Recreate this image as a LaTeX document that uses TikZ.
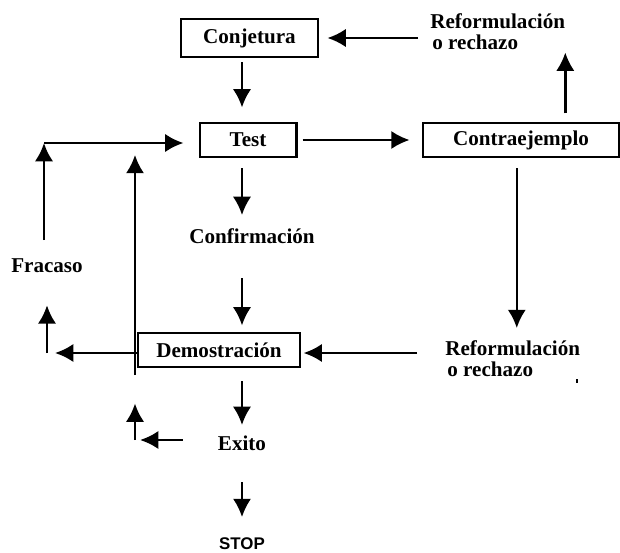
\documentclass[tikz,border=0pt]{standalone}
\usepackage{fontspec}
\setmainfont{Liberation Serif}
\setsansfont{Liberation Sans}
\usetikzlibrary{arrows.meta}

\begin{document}
\begin{tikzpicture}[x=0.025cm, y=-0.025cm,
    every node/.style = {font=\fontsize{15}{15}\selectfont\bfseries},
    caja/.style = {shape=rectangle, draw, line width=2.1pt, minimum height=24.2pt},
    etiq/.style = {inner sep=0pt, text height=10.5pt, text depth=0pt},
    nota/.style = {inner sep=0pt, align=left},
    flecha/.style = {line width=1.8pt, -{Latex[length=13pt,width=13pt]}}]
  \useasboundingbox (0,0) rectangle (620,553);

  % cajas
  \node[caja, minimum width=97.4pt, minimum height=27pt] (conj) at (249.5,38) {Conjetura};
  \node[caja, minimum width=68.3pt] (test) at (248,140) {Test};
  \node[caja, minimum width=139.4pt] (contra) at (521,140) {Contraejemplo};
  \node[caja, minimum width=115.2pt] (demo) at (219,350) {Demostración};

  % textos sueltos
  \node[nota, anchor=north west] (reftop) at (430,13) {Reformulación\\\hspace{1.5pt}o rechazo};
  \node[nota, anchor=north west] (refbot) at (445,340) {Reformulación\\\hspace{1.5pt}o rechazo};
  \node[etiq, anchor=base] (confirm) at (252,243) {Confirmación};
  \node[etiq, anchor=base] (fracaso) at (47,272) {Fracaso};
  \node[etiq, anchor=base] (exito) at (242,450) {Exito};
  \node[etiq, anchor=base, font=\fontsize{12}{12}\selectfont\sffamily\bfseries] (stop) at (242,549) {STOP};

  \coordinate (ft) at (44,143);
  \coordinate (fl) at (47,353);
  \coordinate (ec) at (135,440);
  \coordinate (lb) at (135,375);

  % flechas
  \draw[flecha, shorten <=8.5pt, shorten >=5.7pt] (reftop.west |- conj.east) -- (conj.east);
  \draw[flecha, shorten <=2.8pt, shorten >=10pt] (conj.south -| exito) -- (test.north -| exito);
  \draw[flecha, shorten <=3.6pt, shorten >=8.5pt] (test.east) -- (contra.west);
  \draw[flecha, shorten <=5.7pt, shorten >=2pt] (contra.north -| reftop.south east) -- (reftop.south east);
  \draw[flecha, shorten <=7.1pt, shorten >=9.2pt] (test.south -| exito) -- (confirm.north -| exito);
  \draw[flecha, shorten <=24.9pt, shorten >=4.3pt] (confirm.south -| exito) -- (demo.north -| exito);
  \draw[flecha, shorten <=7.1pt, shorten >=8.5pt] ([xshift=-3pt]contra.south) -- ([xshift=-3pt]contra.south |- refbot.north);
  \draw[flecha, shorten <=19.9pt, shorten >=1.5pt] (refbot.west |- fl) -- (demo.east |- fl);
  \draw[flecha, shorten >=5.7pt] (demo.west |- fl) -- (fl);
  \draw[flecha, shorten >=23.5pt] (fl) -- (fracaso.south -| fl);
  \draw[flecha, shorten <=12pt] (fracaso.north -| ft) -- (ft);
  \draw[flecha, shorten >=10.7pt] (ft) -- (test.west |- ft);
  \draw[flecha, shorten >=8.5pt] (lb) -- (lb |- ft);
  \draw[flecha, shorten <=24.9pt, shorten >=3.6pt] (exito.west |- ec) -- (ec);
  \draw[flecha, shorten >=24.9pt] (ec) -- (ec |- demo.south);
  \draw[flecha, shorten <=9.2pt, shorten >=7.1pt] (demo.south -| exito) -- (exito.north);
  \draw[flecha, shorten <=22.8pt, shorten >=12pt] (exito.south) -- (stop.north);
  \draw[line width=1.5pt] (577,379) -- (577,383);
\end{tikzpicture}
\end{document}
